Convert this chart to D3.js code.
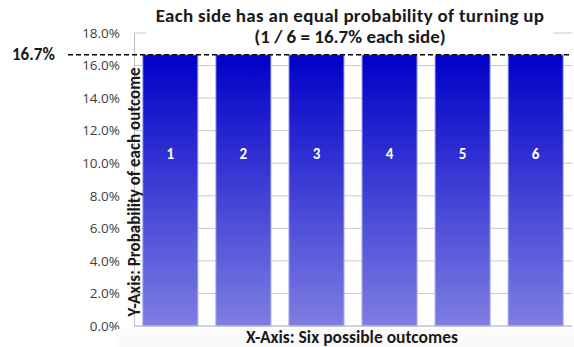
<!DOCTYPE html>
<html>
<head>
<meta charset="utf-8">
<script src="https://cdn.jsdelivr.net/npm/d3@7"></script>
<style>
  body { margin: 0; background: #fff; }
  svg { font-family: Carlito, Lato, "Open Sans", sans-serif; }
</style>
</head>
<body>
<div id="chart"></div>
<script>
// data
const outcomes = ["1", "2", "3", "4", "5", "6"];
const probabilities = [1/6, 1/6, 1/6, 1/6, 1/6, 1/6];
const yTicks = [0, 0.02, 0.04, 0.06, 0.08, 0.10, 0.12, 0.14, 0.16, 0.18];
const refValue = 1/6;
const refLabel = "16.7%";
const titleLines = ["Each side has an equal probability of turning up", "(1 / 6 = 16.7% each side)"];
const xTitle = "X-Axis: Six possible  outcomes";
const yTitle = "Y-Axis: Probability of each outcome";

const W = 574, H = 347;
const margin = {top: 33, right: 2, bottom: 21, left: 134};
const width = W - margin.left - margin.right;
const height = H - margin.top - margin.bottom;

const svg = d3.select("#chart").append("svg")
    .attr("width", W)
    .attr("height", H);

// gradient for bars
const defs = svg.append("defs");
const grad = defs.append("linearGradient")
    .attr("id", "barGrad")
    .attr("x1", 0).attr("y1", 0).attr("x2", 0).attr("y2", 1);
grad.append("stop").attr("offset", "0%").attr("stop-color", "#0000c8");
grad.append("stop").attr("offset", "100%").attr("stop-color", "#7e7ee2");

const g = svg.append("g")
    .attr("transform", `translate(${margin.left},${margin.top})`);

let x = d3.scaleBand()
    .domain(outcomes)
    .range([0, width])
    .paddingInner(0.245)
    .paddingOuter(0.12);

let y = d3.scaleLinear()
    .domain([0, 0.18])
    .range([height, 0]);

// gridlines
g.append("g")
    .selectAll("line")
    .data(yTicks)
    .enter().append("line")
    .attr("x1", 0)
    .attr("x2", width)
    .attr("y1", d => y(d))
    .attr("y2", d => y(d))
    .attr("stroke", "#c8c8c8")
    .attr("stroke-width", 1);

// y axis labels
let yAxis = d3.axisLeft(y)
    .tickValues(yTicks)
    .tickFormat(d3.format(".1%"))
    .tickSize(0)
    .tickPadding(14);

g.append("g")
    .attr("class", "y-axis")
    .call(yAxis)
    .call(a => a.select(".domain").attr("stroke", "#bfbfbf"))
    .selectAll("text")
    .attr("font-size", 13.5)
    .attr("fill", "#404040")
    .style("font-family", "'Open Sans', sans-serif");

// bars
g.selectAll(".bar")
    .data(probabilities)
    .enter().append("rect")
    .attr("class", "bar")
    .attr("x", (d, i) => x(outcomes[i]))
    .attr("y", d => y(d))
    .attr("width", x.bandwidth())
    .attr("height", d => height - y(d))
    .attr("fill", "url(#barGrad)")
    .attr("stroke", "#b4b4f0")
    .attr("stroke-width", 1);

// bar labels
g.selectAll(".bar-label")
    .data(probabilities)
    .enter().append("text")
    .attr("class", "bar-label")
    .attr("x", (d, i) => x(outcomes[i]) + x.bandwidth() / 2)
    .attr("y", d => y(d * 0.63))
    .attr("text-anchor", "middle")
    .attr("dominant-baseline", "middle")
    .attr("fill", "#fff")
    .attr("font-weight", "bold")
    .attr("font-size", 15)
    .text((d, i) => outcomes[i]);

// baseline
g.append("line")
    .attr("x1", 0).attr("x2", width)
    .attr("y1", height).attr("y2", height)
    .attr("stroke", "#bfbfbf");

// title background + title
svg.append("rect")
    .attr("x", 146).attr("y", 0)
    .attr("width", 407).attr("height", 46)
    .attr("fill", "#fff");

svg.append("g")
    .selectAll("text")
    .data(titleLines)
    .enter().append("text")
    .attr("x", 350)
    .attr("y", (d, i) => 22 + i * 21)
    .attr("text-anchor", "middle")
    .attr("font-weight", "bold")
    .attr("font-size", 19)
    .attr("letter-spacing", (d, i) => i === 0 ? "0.3px" : "0px")
    .attr("fill", "#1a1a1a")
    .text(d => d);

// reference dashed line at 16.7%
svg.append("line")
    .attr("x1", 68)
    .attr("x2", margin.left + width)
    .attr("y1", margin.top + y(refValue))
    .attr("y2", margin.top + y(refValue))
    .attr("stroke", "#000")
    .attr("stroke-width", 1.5)
    .attr("stroke-dasharray", "5,3");

svg.append("text")
    .attr("x", 12)
    .attr("y", margin.top + y(refValue) + 1)
    .attr("dominant-baseline", "middle")
    .attr("font-weight", "bold")
    .attr("font-size", 17)
    .attr("fill", "#1a1a1a")
    .text(refLabel);

// y axis title
svg.append("text")
    .attr("transform", `translate(${margin.left + 2},192) rotate(-90)`)
    .attr("text-anchor", "middle")
    .attr("dominant-baseline", "middle")
    .attr("font-weight", "bold")
    .attr("font-size", 17)
    .attr("fill", "#1a1a1a")
    .text(yTitle);

// x axis title with faint box
svg.append("rect")
    .attr("x", 116).attr("y", 329)
    .attr("width", 458).attr("height", 18)
    .attr("fill", "#fafafa");

svg.append("text")
    .attr("x", 352)
    .attr("y", 339)
    .attr("text-anchor", "middle")
    .attr("dominant-baseline", "middle")
    .attr("font-weight", "bold")
    .attr("font-size", 17.5)
    .attr("fill", "#1a1a1a")
    .text(xTitle);
</script>
</body>
</html>
